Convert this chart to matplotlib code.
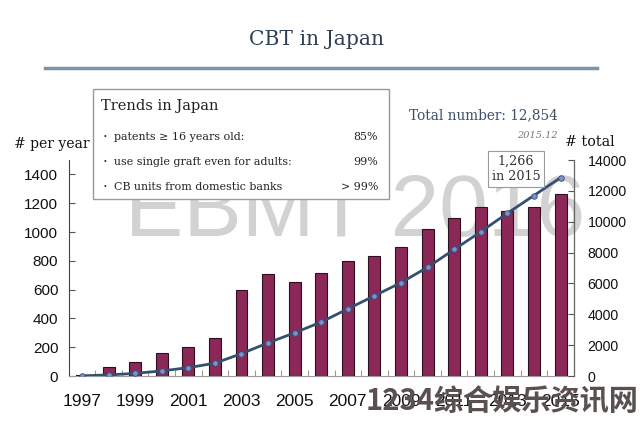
import matplotlib
matplotlib.use("Agg")
import matplotlib.pyplot as plt
from matplotlib.ticker import FixedLocator

years = list(range(1997, 2016))
per_year = [5, 60, 100, 160, 202, 267, 599, 711, 655, 718, 799, 836, 894, 1022, 1096, 1173, 1145, 1173, 1266]
cumulative = [10, 70, 170, 330, 540, 830, 1450, 2150, 2800, 3500, 4350, 5200, 6050, 7050, 8200, 9350, 10550, 11700, 12854]
left_ticks = [0, 200, 400, 600, 800, 1000, 1200, 1400]
right_ticks = [0, 2000, 4000, 6000, 8000, 10000, 12000, 14000]
x_labels = [1997, 1999, 2001, 2003, 2005, 2007, 2009, 2011, 2013, 2015]
trends = [("patents \u2265 16 years old:", "85%"),
          ("use single graft even for adults:", "99%"),
          ("CB units from domestic banks", "> 99%")]

SERIF = "DejaVu Serif"
NUM = "Liberation Sans"

fig = plt.figure(figsize=(6.4, 4.24), dpi=100)
fig.patch.set_facecolor("white")

ax = fig.add_axes([0.1073, 0.1132, 0.7893, 0.5094])
ax2 = ax.twinx()

fig.text(0.555, 0.496, "EBMT 2016", fontsize=63, color="#d2d2d2",
         family="Liberation Sans", ha="center", va="center", zorder=0)
ax.set_zorder(1)
ax2.set_zorder(2)
ax.patch.set_visible(False)
ax2.patch.set_visible(False)

ax.bar(years, per_year, width=0.45, color="#8c2858", edgecolor="#2e0f1e",
       linewidth=0.8, zorder=3)
ax.set_xlim(1996.5, 2015.5)
ax.set_ylim(0, 1500)
ax.yaxis.set_major_locator(FixedLocator(left_ticks))
ax.set_xticks(x_labels)
ax.set_xticks([y + 0.5 for y in years[:-1]], minor=True)
ax.tick_params(axis="x", which="major", length=0, pad=13, labelsize=12.5,
               labelcolor="#111111")
ax.tick_params(axis="x", which="minor", direction="in", length=4,
               color="#9a9a9a", width=0.8)
ax.tick_params(axis="y", direction="in", length=4, pad=7.5, color="#555555")
for lab in ax.get_xticklabels():
    lab.set_family("Liberation Sans")
for lab in ax.get_yticklabels():
    lab.set_family(NUM)
    lab.set_fontsize(11)
    lab.set_color("#111111")

ax2.plot(years, cumulative, color="#34506e", lw=2, marker="o", markersize=4,
         markerfacecolor="#7d8fd0", markeredgecolor="#34506e",
         markeredgewidth=0.6, zorder=4)
ax2.set_ylim(0, 14000)
ax2.yaxis.set_major_locator(FixedLocator(right_ticks))
ax2.tick_params(axis="y", direction="in", length=4, pad=10, color="#555555")
for lab in ax2.get_yticklabels():
    lab.set_family(NUM)
    lab.set_fontsize(10.2)
    lab.set_color("#111111")

for a in (ax, ax2):
    a.spines["top"].set_visible(False)
ax.spines["left"].set_color("#444444")
ax.spines["bottom"].set_color("#9a9a9a")
ax2.spines["right"].set_color("#666666")
ax2.spines["left"].set_visible(False)
ax2.spines["bottom"].set_visible(False)

fig.text(0.494, 0.906, "CBT in Japan", fontsize=14.6, family=SERIF,
         color="#2f3f55", ha="center", va="center")
fig.add_artist(plt.Line2D([45 / 640, 597 / 640], [1 - 68 / 424, 1 - 68 / 424],
                          color="#7d93a8", lw=2.5))

fig.text(14 / 640, 1 - 144 / 424, "# per year", fontsize=10,
         family=SERIF, color="#111111", ha="left", va="center")
fig.text(565 / 640, 1 - 142 / 424, "# total", fontsize=10.3,
         family=SERIF, color="#111111", ha="left", va="center")
fig.text(409 / 640, 1 - 115 / 424, "Total number: 12,854", fontsize=9.8,
         family=SERIF, color="#3d4f66", ha="left", va="center")
fig.text(558 / 640, 1 - 136 / 424, "2015.12", fontsize=7, style="italic",
         family=SERIF, color="#777777", ha="right", va="center")

bx0, bx1, by0, by1 = 93 / 640, 389 / 640, 1 - 199 / 424, 1 - 89 / 424
fig.add_artist(plt.Rectangle((bx0, by0), bx1 - bx0, by1 - by0,
                             facecolor="white", edgecolor="#9a9a9a", lw=1,
                             zorder=10))
fig.text(101 / 640, 1 - 106 / 424, "Trends in Japan", fontsize=10.5,
         family=SERIF, color="#222222", ha="left", va="center", zorder=11)
for i, (lbl, val) in enumerate(trends):
    yy = 1 - (137 + 25 * i) / 424
    fig.text(103 / 640, yy, "\u00b7", fontsize=11, family=SERIF,
             color="#222222", ha="left", va="center", zorder=11)
    fig.text(114 / 640, yy, lbl, fontsize=7.9, family=SERIF,
             color="#222222", ha="left", va="center", zorder=11)
    fig.text(378 / 640, yy, val, fontsize=7.9, family=SERIF,
             color="#222222", ha="right", va="center", zorder=11)

fig.text(516 / 640, 1 - 169 / 424, "1,266\nin 2015", fontsize=9.2,
         family=SERIF, color="#333333", ha="center", va="center",
         linespacing=1.25, zorder=11,
         bbox=dict(boxstyle="square,pad=0.3", facecolor="white",
                   edgecolor="#9a9a9a", lw=0.8))

fig.text(366 / 640, 1 - 401 / 424, "1234\u7efc\u5408\u5a31\u4e50\u8d44\u8baf\u7f51",
         fontsize=21, weight="bold", family=["Noto Sans CJK SC", "DejaVu Sans"],
         color="#5b5050", ha="left", va="center", zorder=12)

fig.savefig("out.png", dpi=100)
